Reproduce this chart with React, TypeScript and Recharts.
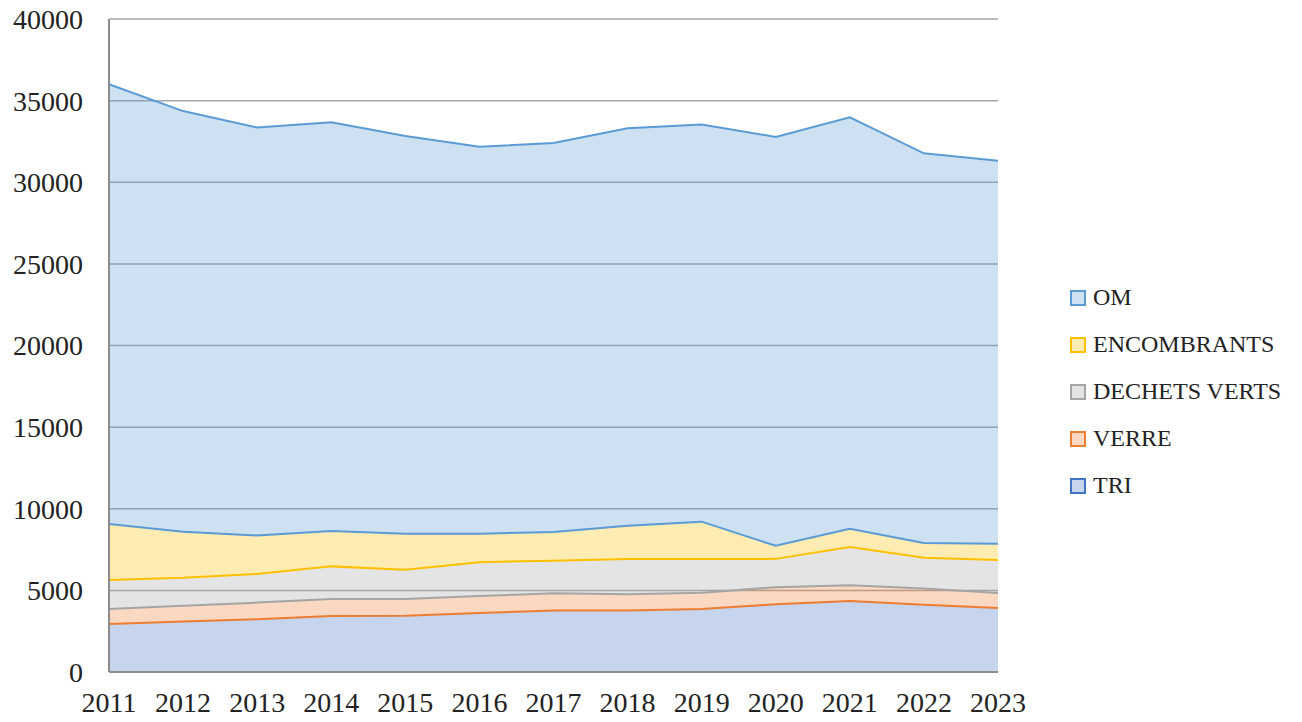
import React from 'react';
import { AreaChart, Area, XAxis, YAxis, CartesianGrid, Legend } from 'recharts';

const years = ['2011', '2012', '2013', '2014', '2015', '2016', '2017', '2018', '2019', '2020', '2021', '2022', '2023'];
const tri = [2940, 3100, 3230, 3430, 3450, 3610, 3760, 3760, 3860, 4150, 4350, 4120, 3920];
const verre = [920, 960, 1020, 1040, 1020, 1040, 1060, 1000, 1000, 1040, 960, 1000, 920];
const dechetsVerts = [1780, 1710, 1760, 2000, 1790, 2080, 2000, 2160, 2060, 1740, 2350, 1880, 2020];
const encombrants = [3430, 2820, 2350, 2160, 2210, 1740, 1760, 2040, 2290, 800, 1120, 900, 1000];
const om = [26930, 25770, 24990, 25040, 24360, 23700, 23830, 24350, 24320, 25050, 25200, 23870, 23460];
const yTicks = [0, 5000, 10000, 15000, 20000, 25000, 30000, 35000, 40000];

// color: the series' own colour; edge: the colour of the outline drawn along its top
// (in the reference, each series' outline covers the top edge of the one below it)
const series = [
  { key: 'TRI', color: '#4472C4', edge: '#ED7D31', values: tri },
  { key: 'VERRE', color: '#ED7D31', edge: '#A5A5A5', values: verre },
  { key: 'DECHETS VERTS', color: '#A5A5A5', edge: '#FFC000', values: dechetsVerts },
  { key: 'ENCOMBRANTS', color: '#FFC000', edge: '#5B9BD5', values: encombrants },
  { key: 'OM', color: '#5B9BD5', edge: '#5B9BD5', values: om },
];

const data = years.map((y, i) => {
  const row: Record<string, string | number> = { year: y };
  series.forEach((s) => {
    row[s.key] = s.values[i];
  });
  return row;
});

const FONT = '"Liberation Serif", "DejaVu Serif", serif';

const LegendContent = () => (
  <div style={{ paddingLeft: 8, fontFamily: FONT, fontSize: 24, color: '#222' }}>
    {[...series].reverse().map((s) => (
      <div key={s.key} style={{ height: 47, display: 'flex', alignItems: 'center', whiteSpace: 'nowrap' }}>
        <span
          style={{
            display: 'inline-block',
            width: 12,
            height: 12,
            border: `2px solid ${s.color}`,
            background: s.color,
            marginRight: 7,
            position: 'relative',
          }}
        >
          <span
            style={{
              position: 'absolute',
              inset: 0,
              background: 'rgba(255,255,255,0.7)',
            }}
          />
        </span>
        <span>{s.key}</span>
      </div>
    ))}
  </div>
);

export default function App() {
  return (
    <AreaChart
      width={1294}
      height={714}
      data={data}
      margin={{ top: 11, right: 74, bottom: 20, left: 0 }}
    >
      <CartesianGrid vertical={false} stroke="#A6A6A6" strokeWidth={1.5} />
      <XAxis
        dataKey="year"
        tickLine={false}
        axisLine={{ stroke: '#8C8C8C', strokeWidth: 2 }}
        tick={{ fontFamily: FONT, fontSize: 28, fill: '#222' }}
        tickMargin={14}
        height={30}
        interval={0}
      />
      <YAxis
        domain={[0, 40000]}
        ticks={yTicks}
        tickLine={false}
        axisLine={{ stroke: '#8C8C8C', strokeWidth: 2 }}
        tick={{ fontFamily: FONT, fontSize: 28, fill: '#222' }}
        tickMargin={20}
        width={101}
        interval={0}
      />
      {series.map((s) => (
        <Area
          key={s.key}
          type="linear"
          dataKey={s.key}
          stackId="1"
          stroke={s.edge}
          strokeWidth={2}
          fill={s.color}
          fillOpacity={0.3}
          isAnimationActive={false}
        />
      ))}
      <Legend
        layout="vertical"
        align="right"
        verticalAlign="middle"
        width={230}
        content={<LegendContent />}
        wrapperStyle={{ left: 1054, top: 266 }}
      />
    </AreaChart>
  );
}
